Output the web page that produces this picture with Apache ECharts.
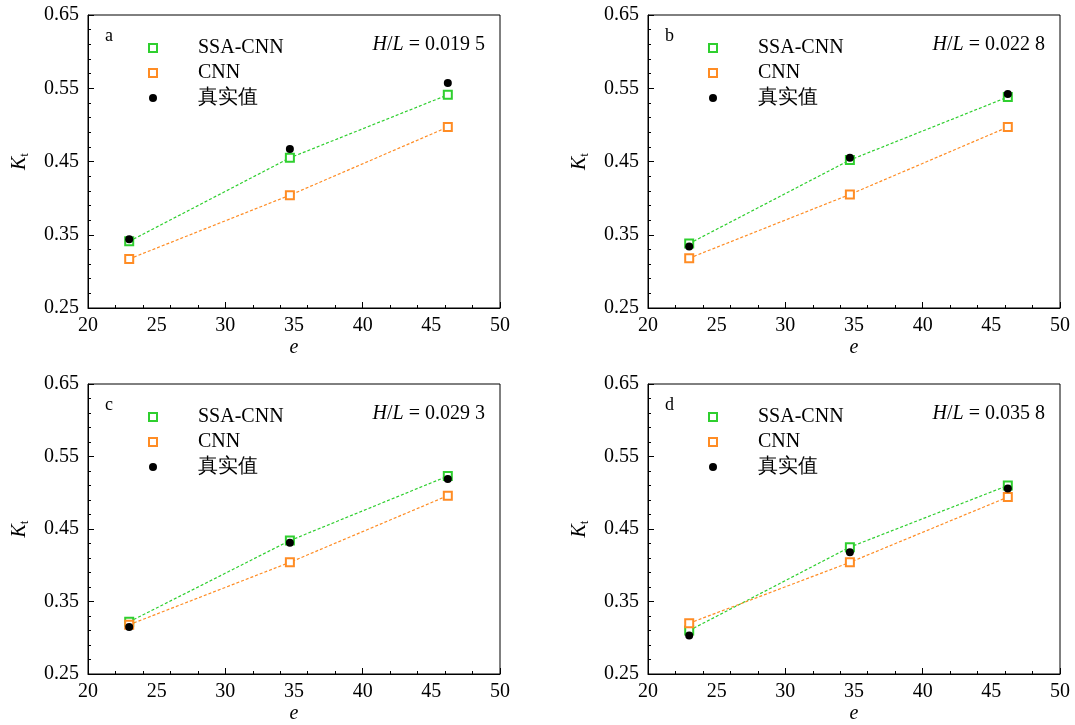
<!DOCTYPE html>
<html><head><meta charset="utf-8">
<script src="https://cdn.jsdelivr.net/npm/echarts@6/dist/echarts.min.js"></script>
<style>html,body{margin:0;padding:0;background:#fff}#c{width:1075px;height:725px}</style>
</head><body><div id="c"></div>
<script>
const eValues = [23, 34.7, 46.2];
const panelLetters = ['a', 'b', 'c', 'd'];
const ratioLabels = ['0.019 5', '0.022 8', '0.029 3', '0.035 8'];
const ssaCnn = [
  [0.341, 0.455, 0.541],
  [0.338, 0.452, 0.538],
  [0.322, 0.434, 0.523],
  [0.310, 0.425, 0.510]
];
const cnn = [
  [0.317, 0.404, 0.497],
  [0.318, 0.405, 0.497],
  [0.318, 0.404, 0.496],
  [0.320, 0.404, 0.494]
];
const actual = [
  [0.344, 0.467, 0.557],
  [0.334, 0.455, 0.542],
  [0.315, 0.431, 0.519],
  [0.303, 0.418, 0.506]
];
const seriesNames = ['SSA-CNN', 'CNN', '真实值'];
const xTicks = [20, 25, 30, 35, 40, 45, 50];
const yTicks = [0.25, 0.35, 0.45, 0.55, 0.65];

const GREEN = '#2fcf2f', ORANGE = '#ff8c24', BLACK = '#000';
const FONT = '"Liberation Serif", "Times New Roman", serif';
const lefts = [88, 648], tops = [15, 384];
const W = 412, H = 293;

const grids = [], xAxes = [], yAxes = [], series = [], legends = [], titles = [];
for (let p = 0; p < 4; p++) {
  const L = lefts[p % 2], T = tops[Math.floor(p / 2)];
  grids.push({left: L, top: T, width: W, height: H, show: true, borderColor: '#000', borderWidth: 1, backgroundColor: 'transparent'});
  // tick axis (every 2 units)
  xAxes.push({type: 'value', gridIndex: p, min: xTicks[0], max: xTicks[xTicks.length-1], interval: 10,
    axisLine: {lineStyle: {color: '#000'}}, axisTick: {inside: true, length: 6, lineStyle: {color: '#000'}},
    minorTick: {show: true, splitNumber: 5, length: 3, lineStyle: {color: '#000'}},
    axisLabel: {show: false}, splitLine: {show: false}});
  // label axis
  xAxes.push({type: 'value', gridIndex: p, min: xTicks[0], max: xTicks[xTicks.length-1], interval: 5, position: 'bottom',
    axisLine: {show: false}, axisTick: {show: false}, splitLine: {show: false},
    axisLabel: {color: '#000', fontFamily: FONT, fontSize: 20, margin: 8},
    name: 'e', nameLocation: 'middle', nameGap: 30, nameTextStyle: {color: '#000', fontFamily: FONT, fontSize: 20, fontStyle: 'italic'}});
  yAxes.push({type: 'value', gridIndex: p, min: 0.25, max: 0.65, interval: 0.1,
    axisLine: {show: true, lineStyle: {color: '#000'}}, axisTick: {show: true, inside: true, length: 6, lineStyle: {color: '#000'}},
    minorTick: {show: true, splitNumber: 5, length: 3, lineStyle: {color: '#000'}},
    splitLine: {show: false},
    axisLabel: {color: '#000', fontFamily: FONT, fontSize: 20, margin: 9, formatter: v => v.toFixed(2)},
    name: '{k|K}{s|t}', nameLocation: 'middle', nameGap: 57, nameRotate: 90,
    nameTextStyle: {rich: {k: {fontFamily: FONT, fontSize: 20, fontStyle: 'italic', color: '#000'}, s: {fontFamily: FONT, fontSize: 13, color: '#000', verticalAlign: 'bottom', padding: [9,0,0,0]}}}});
  const xi = p * 2;
  const mk = (arr) => eValues.map((e, i) => [e, arr[p][i]]);
  series.push({name: seriesNames[0], type: 'line', xAxisIndex: xi, yAxisIndex: p, data: mk(ssaCnn),
    symbol: 'emptyRect', symbolSize: 8, itemStyle: {color: GREEN, borderWidth: 1.5}, lineStyle: {color: GREEN, width: 1.2, type: [3, 2]}, z: 3});
  series.push({name: seriesNames[1], type: 'line', xAxisIndex: xi, yAxisIndex: p, data: mk(cnn),
    symbol: 'emptyRect', symbolSize: 8, itemStyle: {color: ORANGE, borderWidth: 1.5}, lineStyle: {color: ORANGE, width: 1.2, type: [3, 2]}, z: 3});
  series.push({name: seriesNames[2], type: 'scatter', xAxisIndex: xi, yAxisIndex: p, data: mk(actual),
    symbol: 'circle', symbolSize: 8, itemStyle: {color: BLACK, opacity: 1}, z: 4});
  legends.push({left: L + 60, top: T + 23, padding: 0, orient: 'vertical', itemGap: 5, itemWidth: 8, itemHeight: 8,
    data: [{name: seriesNames[0], icon: 'emptyRect'}, {name: seriesNames[1], icon: 'emptyRect'}, {name: seriesNames[2], icon: 'circle', itemStyle: {color: BLACK, opacity: 1}}],
    textStyle: {fontFamily: FONT, fontSize: 20, color: '#000', padding: [0, 0, 0, 36]}, selectedMode: false});
  titles.push({text: panelLetters[p], left: L + 12, top: T + 7, textStyle: {fontFamily: FONT, fontSize: 18, fontWeight: 'normal', color: '#000'}});
  titles.push({text: '{i|H}/{i|L} = ' + ratioLabels[p], right: 1075 - (L + W) + 10, top: T + 15,
    textStyle: {rich: {i: {fontFamily: FONT, fontSize: 20, fontStyle: 'italic', color: '#000'}}, fontFamily: FONT, fontSize: 20, fontWeight: 'normal', color: '#000'}});
}

const chart = echarts.init(document.getElementById('c'));
chart.setOption({animation: false, backgroundColor: '#fff', title: titles, legend: legends, grid: grids, xAxis: xAxes, yAxis: yAxes, series: series});
</script></body></html>
